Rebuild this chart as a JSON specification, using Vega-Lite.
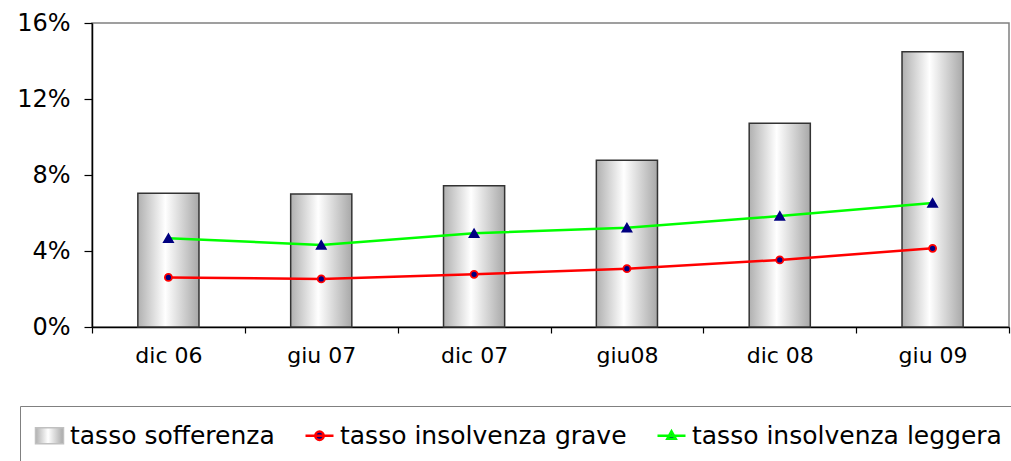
{
  "$schema": "https://vega.github.io/schema/vega-lite/v6.json",
  "autosize": "none",
  "padding": {"left": 92, "top": 23, "right": 2, "bottom": 134},
  "width": 917,
  "height": 304,
  "background": "white",
  "config": {
    "font": "DejaVu Sans",
    "view": {"stroke": "#808080", "strokeWidth": 1.5}
  },
  "datasets": {
    "bars": [
      {"period": "dic 06", "value": 0.0704},
      {"period": "giu 07", "value": 0.0700},
      {"period": "dic 07", "value": 0.0744},
      {"period": "giu08", "value": 0.0877},
      {"period": "dic 08", "value": 0.1072},
      {"period": "giu 09", "value": 0.1449}
    ],
    "lines": [
      {"period": "dic 06", "series": "tasso insolvenza grave", "value": 0.0261},
      {"period": "giu 07", "series": "tasso insolvenza grave", "value": 0.0253},
      {"period": "dic 07", "series": "tasso insolvenza grave", "value": 0.0277},
      {"period": "giu08", "series": "tasso insolvenza grave", "value": 0.0307},
      {"period": "dic 08", "series": "tasso insolvenza grave", "value": 0.0353},
      {"period": "giu 09", "series": "tasso insolvenza grave", "value": 0.0414},
      {"period": "dic 06", "series": "tasso insolvenza leggera", "value": 0.0467},
      {"period": "giu 07", "series": "tasso insolvenza leggera", "value": 0.0432},
      {"period": "dic 07", "series": "tasso insolvenza leggera", "value": 0.0493},
      {"period": "giu08", "series": "tasso insolvenza leggera", "value": 0.0523},
      {"period": "dic 08", "series": "tasso insolvenza leggera", "value": 0.0584},
      {"period": "giu 09", "series": "tasso insolvenza leggera", "value": 0.0653}
    ]
  },
  "encoding": {
    "x": {
      "field": "period",
      "type": "nominal",
      "scale": {"domain": ["dic 06", "giu 07", "dic 07", "giu08", "dic 08", "giu 09"], "paddingInner": 0, "paddingOuter": 0},
      "axis": {
        "title": null,
        "labelAngle": 0,
        "labelFontSize": 22,
        "labelColor": "black",
        "labelPadding": 12,
        "tickBand": "extent",
        "tickSize": 6,
        "tickColor": "black",
        "domainColor": "black",
        "domainWidth": 1.5,
        "tickWidth": 1.2
      }
    },
    "y": {
      "field": "value",
      "type": "quantitative",
      "scale": {"domain": [0, 0.16], "nice": false},
      "axis": {
        "title": null,
        "values": [0, 0.04, 0.08, 0.12, 0.16],
        "format": ".0%",
        "grid": false,
        "labelFontSize": 24,
        "labelColor": "black",
        "labelPadding": 14,
        "tickSize": 8,
        "tickColor": "black",
        "domainColor": "black",
        "domainWidth": 1.5,
        "tickWidth": 1.2
      }
    }
  },
  "layer": [
    {
      "data": {"name": "bars"},
      "mark": {
        "type": "bar",
        "width": {"band": 0.4},
        "stroke": "#333333",
        "strokeWidth": 1.5,
        "fill": {
          "gradient": "linear",
          "x1": 0, "y1": 0, "x2": 1, "y2": 0,
          "stops": [
            {"offset": 0, "color": "#b0b0b0"},
            {"offset": 0.45, "color": "#ffffff"},
            {"offset": 1, "color": "#a8a8a8"}
          ]
        }
      }
    },
    {
      "data": {"name": "lines"},
      "mark": {"type": "line", "strokeWidth": 2.5},
      "encoding": {
        "color": {
          "field": "series",
          "type": "nominal",
          "scale": {
            "domain": ["tasso sofferenza", "tasso insolvenza grave", "tasso insolvenza leggera"],
            "range": ["#c0c0c0", "#ff0000", "#00ff00"]
          },
          "legend": {
            "title": null,
            "orient": "none",
            "legendX": -72,
            "legendY": 383,
            "direction": "horizontal",
            "columns": 3,
            "padding": 17,
            "strokeColor": "#808080",
            "labelFontSize": 25,
            "labelColor": "black",
            "labelLimit": 0,
            "labelOffset": 8,
            "columnPadding": 25,
            "symbolSize": 784,
            "encode": {
              "symbols": {
                "update": {
                  "shape": {"signal": "datum.value === 'tasso sofferenza' ? 'M-1,-0.57H1V0.57H-1Z' : datum.value === 'tasso insolvenza grave' ? 'M-1,0H1M-0.3,0A0.3,0.3 0 1,1 0.3,0A0.3,0.3 0 1,1 -0.3,0Z' : 'M-1,0H1M0,-0.32L0.3,0.22H-0.3Z'"},
                  "fill": {"signal": "datum.value === 'tasso sofferenza' ? {gradient: 'linear', x1: 0, y1: 0, x2: 1, y2: 0, stops: [{offset: 0, color: '#b0b0b0'}, {offset: 0.45, color: '#ffffff'}, {offset: 1, color: '#a8a8a8'}]} : '#000080'"},
                  "stroke": {"signal": "datum.value === 'tasso sofferenza' ? '#555555' : datum.value === 'tasso insolvenza grave' ? '#ff0000' : '#00ff00'"},
                  "strokeWidth": {"signal": "datum.value === 'tasso sofferenza' ? 1.5 : 2.5"},
                  "opacity": {"value": 1},
                  "fillOpacity": {"value": 1},
                  "strokeOpacity": {"value": 1}
                }
              }
            }
          }
        }
      }
    },
    {
      "data": {"name": "lines"},
      "mark": {"type": "point", "filled": false, "fill": "#000080", "fillOpacity": 1, "opacity": 1, "strokeWidth": 1.8},
      "encoding": {
        "shape": {
          "field": "series",
          "type": "nominal",
          "scale": {"domain": ["tasso insolvenza grave", "tasso insolvenza leggera"], "range": ["circle", "triangle-up"]},
          "legend": null
        },
        "stroke": {
          "field": "series",
          "type": "nominal",
          "scale": {"domain": ["tasso insolvenza grave", "tasso insolvenza leggera"], "range": ["#ff0000", "#000080"]},
          "legend": null
        },
        "size": {
          "field": "series",
          "type": "nominal",
          "scale": {"domain": ["tasso insolvenza grave", "tasso insolvenza leggera"], "range": [50, 80]},
          "legend": null
        }
      }
    }
  ]
}
